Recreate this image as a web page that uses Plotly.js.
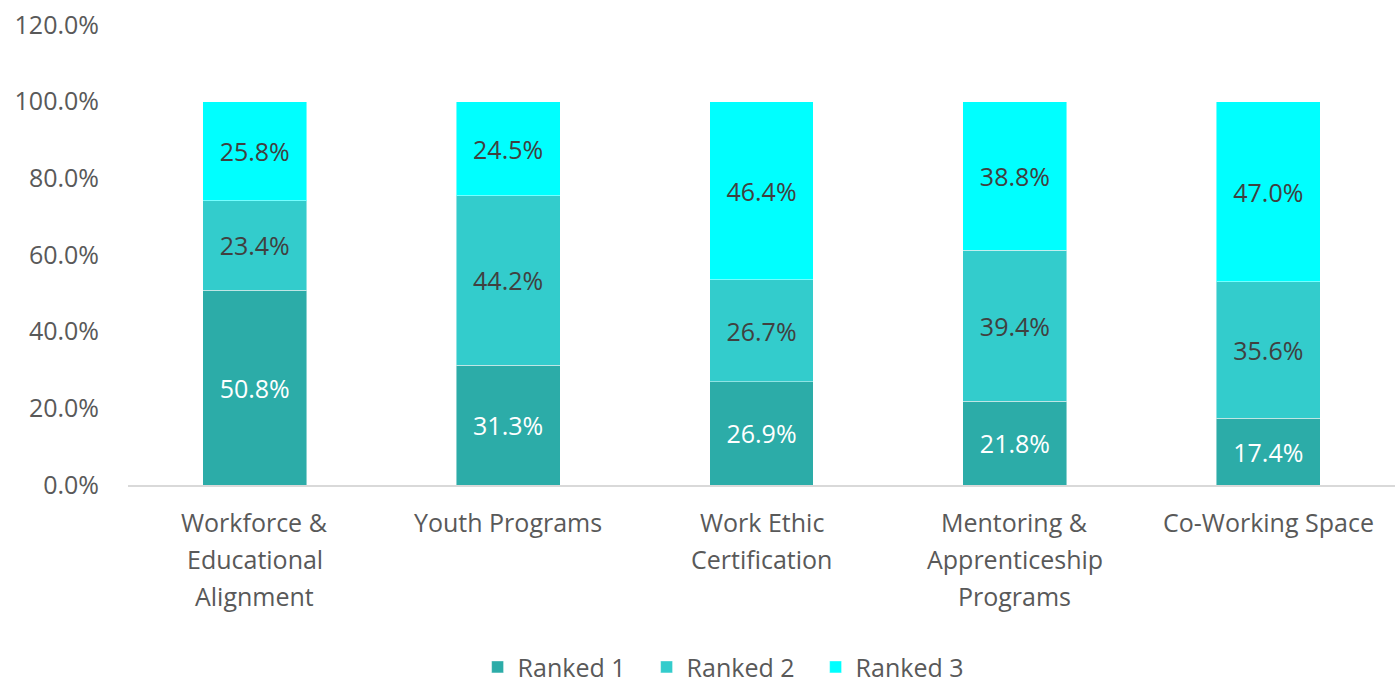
<!DOCTYPE html>
<html>
<head>
<meta charset="utf-8">
<script src="https://cdn.plot.ly/plotly-3.0.1.min.js"></script>
<style>html,body{margin:0;padding:0;background:#fff;}#chart{width:1399px;height:683px;}</style>
</head>
<body>
<div id="chart"></div>
<script>
const categories = ["Workforce &<br>Educational<br>Alignment", "Youth Programs", "Work Ethic<br>Certification", "Mentoring &<br>Apprenticeship<br>Programs", "Co-Working Space"];
const ranked1 = [50.8, 31.3, 26.9, 21.8, 17.4];
const ranked2 = [23.4, 44.2, 26.7, 39.4, 35.6];
const ranked3 = [25.8, 24.5, 46.4, 38.8, 47.0];
const seriesNames = ["Ranked 1", "Ranked 2", "Ranked 3"];
const colors = ["#2CACA8", "#33CCCC", "#00FFFF"];
const textColors = ["#FFFFFF", "#404040", "#404040"];
const FONT = "Open Sans, Liberation Sans, sans-serif";
const FS = 25;

const traces = [ranked1, ranked2, ranked3].map((vals, i) => ({
  type: "bar",
  name: seriesNames[i],
  x: categories,
  y: vals,
  marker: {color: colors[i], line: {color: "rgba(255,255,255,0.45)", width: 1}},
  text: vals.map(v => v.toFixed(1) + "%"),
  textposition: "inside",
  insidetextanchor: "middle",
  textangle: 0,
  constraintext: "none",
  textfont: {family: FONT, size: FS, color: textColors[i]},
  hoverinfo: "skip"
}));

// category labels as line-by-line annotations (matching reference line spacing)
const annotations = [];
categories.forEach((c, i) => {
  c.split("<br>").forEach((line, k) => {
    annotations.push({
      xref: "x", yref: "paper", x: i, y: 0,
      yanchor: "middle", xanchor: "center",
      yshift: -(37 + 37 * k),
      text: line, showarrow: false,
      font: {family: FONT, size: FS, color: "#595959"}
    });
  });
});

const layout = {
  barmode: "stack",
  bargap: 0.59,
  width: 1399,
  height: 683,
  margin: {l: 128, r: 4, t: 25, b: 198, autoexpand: false},
  paper_bgcolor: "#fff",
  plot_bgcolor: "#fff",
  font: {family: FONT, size: FS, color: "#595959"},
  showlegend: true,
  legend: {orientation: "h", x: 0.476, xanchor: "center", y: -0.396, yanchor: "middle",
           entrywidth: 124, entrywidthmode: "pixels",
           font: {family: FONT, size: FS, color: "#595959"}, traceorder: "normal"},
  annotations: annotations,
  xaxis: {
    type: "category",
    range: [-0.5, 4.5],
    showline: true, linecolor: "#D9D9D9", linewidth: 2,
    showgrid: false, zeroline: false, ticks: "",
    showticklabels: false
  },
  yaxis: {
    range: [0, 120], dtick: 20, tickformat: ".1f", ticksuffix: "%",
    showgrid: false, zeroline: false, showline: false, ticks: "",
    ticklabelstandoff: 28,
    tickfont: {family: FONT, size: FS, color: "#595959"}
  }
};

Plotly.newPlot("chart", traces, layout, {displayModeBar: false, staticPlot: true});
</script>
</body>
</html>
